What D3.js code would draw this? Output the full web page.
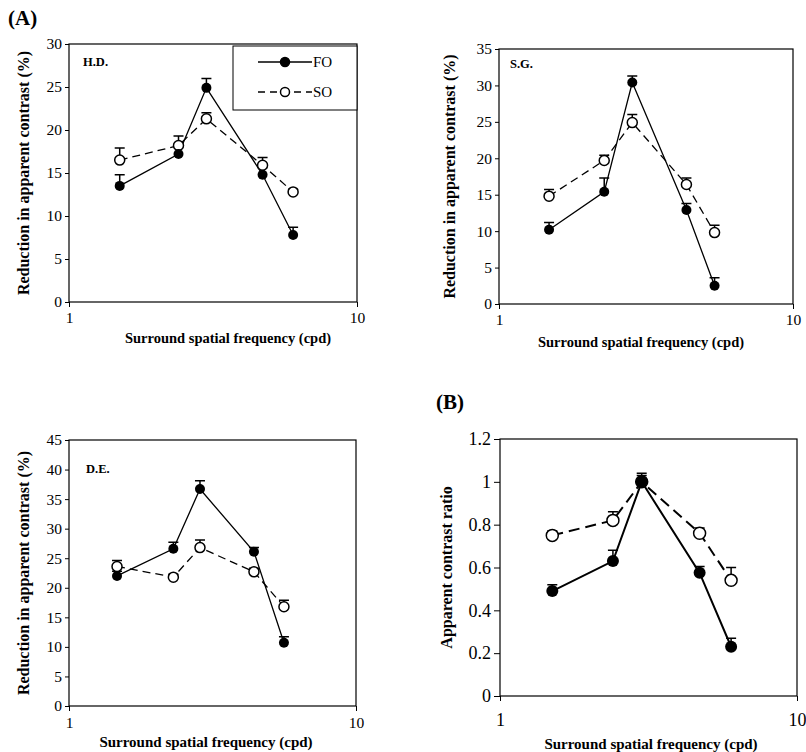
<!DOCTYPE html>
<html>
<head>
<meta charset="utf-8">
<script src="https://cdn.jsdelivr.net/npm/d3@7"></script>
<style>
  body { margin: 0; background: #fff; }
  svg { font-family: "Liberation Serif", "Times New Roman", serif; }
</style>
</head>
<body>
<svg width="806" height="752"></svg>
<script>
// surround spatial frequency (cpd) per subject
const hdFreq = [1.5, 2.4, 3.0, 4.7, 6.0];
const sgFreq = [1.48, 2.28, 2.84, 4.34, 5.41];
const deFreq = [1.47, 2.31, 2.86, 4.41, 5.61];
const avgFreq = [1.5, 2.4, 3.0, 4.7, 6.0];

// reduction in apparent contrast (%), FO / SO with upper error bars
const hdFO = [13.5, 17.2, 24.9, 14.8, 7.8];
const hdFOErr = [1.3, 1.0, 1.1, 0.8, 0.9];
const hdSO = [16.5, 18.2, 21.3, 15.9, 12.8];
const hdSOErr = [1.4, 1.1, 0.7, 0.9, 0.3];

const sgFO = [10.2, 15.4, 30.4, 12.9, 2.5];
const sgFOErr = [1.0, 1.9, 0.9, 0.9, 1.1];
const sgSO = [14.8, 19.7, 24.9, 16.4, 9.8];
const sgSOErr = [0.9, 0.7, 1.1, 0.9, 1.0];

const deFO = [22.0, 26.6, 36.7, 26.1, 10.7];
const deFOErr = [0.8, 1.1, 1.4, 0.7, 1.0];
const deSO = [23.6, 21.8, 26.8, 22.7, 16.8];
const deSOErr = [1.0, 0.5, 1.3, 0.6, 1.1];

// apparent contrast ratio
const avgFO = [0.49, 0.63, 1.0, 0.575, 0.23];
const avgFOErr = [0.03, 0.05, 0.04, 0.03, 0.04];
const avgSO = [0.75, 0.82, 1.0, 0.76, 0.54];
const avgSOErr = [0.02, 0.04, 0.03, 0.025, 0.06];

const xTicks = [1, 10];
const pctLabel = "Reduction in apparent contrast (%)";
const ratioLabel = "Apparent contrast ratio";
const xLabel = "Surround spatial frequency (cpd)";

const svg = d3.select("svg");

const panels = [
  { name: "H.D.", freq: hdFreq, fo: hdFO, foErr: hdFOErr, so: hdSO, soErr: hdSOErr,
    yMax: 30, yStep: 5, yLabel: pctLabel, tickSize: 15.5, tickLen: 4,
    box: [69, 357, 44, 302], xPad: 5, xLabY: 343, xLabX: 228, xLabSize: 14.5,
    yLabX: 29, yLabSize: 16, nameX: 83, nameY: 66, r: 5, dash: "8,5", legend: true },
  { name: "S.G.", freq: sgFreq, fo: sgFO, foErr: sgFOErr, so: sgSO, soErr: sgSOErr,
    yMax: 35, yStep: 5, yLabel: pctLabel, tickSize: 15.5, tickLen: 4,
    box: [499, 793, 49, 304], xPad: 5, xLabY: 347, xLabX: 641, xLabSize: 14.5,
    yLabX: 455, yLabSize: 16, nameX: 510, nameY: 68, r: 5, dash: "8,5" },
  { name: "D.E.", freq: deFreq, fo: deFO, foErr: deFOErr, so: deSO, soErr: deSOErr,
    yMax: 45, yStep: 5, yLabel: pctLabel, tickSize: 15.5, tickLen: 4,
    box: [69, 356, 440, 706], xPad: 6, xLabY: 747, xLabX: 206, xLabSize: 15,
    yLabX: 29, yLabSize: 16, nameX: 86, nameY: 473, r: 5, dash: "8,5" },
  { name: "", freq: avgFreq, fo: avgFO, foErr: avgFOErr, so: avgSO, soErr: avgSOErr,
    yMax: 1.2, yStep: 0.2, yLabel: ratioLabel, tickSize: 18, tickLen: 6,
    box: [500, 797, 439, 696], xPad: 12, xLabY: 749, xLabX: 651, xLabSize: 15,
    yLabX: 452, yLabSize: 16, nameX: 0, nameY: 0, r: 6, dash: "11,6", lw: 2 }
];

panels.forEach(drawPanel);

svg.append("text").attr("x", 8).attr("y", 25)
  .attr("font-size", 21).attr("font-weight", "bold").text("(A)");
svg.append("text").attr("x", 436).attr("y", 409)
  .attr("font-size", 21).attr("font-weight", "bold").text("(B)");

function drawPanel(p) {
  const [x0, x1, y0, y1] = p.box;
  const x = d3.scaleLog().domain([1, 10]).range([x0, x1]);
  const y = d3.scaleLinear().domain([0, p.yMax]).range([y1, y0]);
  const g = svg.append("g");
  const lw = p.lw || 1.3;

  const yTickVals = d3.range(0, p.yMax + p.yStep / 2, p.yStep).map(v => +v.toFixed(1));

  g.append("g")
    .attr("transform", `translate(${x0},0)`)
    .call(d3.axisLeft(y).tickValues(yTickVals).tickSize(p.tickLen).tickPadding(3)
      .tickFormat(d => d3.format("~g")(d)))
    .call(a => a.select(".domain").remove())
    .call(a => a.selectAll("text").attr("font-size", p.tickSize).attr("font-family", "Liberation Serif").attr("fill", "#000"));

  g.append("g")
    .attr("transform", `translate(0,${y1})`)
    .call(d3.axisBottom(x).tickValues(xTicks).tickSize(5).tickPadding(p.xPad)
      .tickFormat(d3.format("d")))
    .call(a => a.select(".domain").remove())
    .call(a => a.selectAll("text").attr("font-size", p.tickSize).attr("font-family", "Liberation Serif").attr("fill", "#000"));

  g.append("rect")
    .attr("x", x0).attr("y", y0).attr("width", x1 - x0).attr("height", y1 - y0)
    .attr("fill", "none").attr("stroke", "#000").attr("stroke-width", 1.2);

  const line = d3.line().x(d => x(d.f)).y(d => y(d.v));
  const fo = p.freq.map((f, i) => ({ f, v: p.fo[i], e: p.foErr[i] }));
  const so = p.freq.map((f, i) => ({ f, v: p.so[i], e: p.soErr[i] }));

  // error bars (upper only)
  [fo, so].forEach(s => {
    g.append("g").selectAll("path").data(s).join("path")
      .attr("d", d => `M${x(d.f)},${y(d.v)}V${y(d.v + d.e)}M${x(d.f) - 5},${y(d.v + d.e)}H${x(d.f) + 5}`)
      .attr("stroke", "#000").attr("stroke-width", 1.5).attr("fill", "none");
  });

  g.append("path").datum(so).attr("d", line)
    .attr("fill", "none").attr("stroke", "#000").attr("stroke-width", lw)
    .attr("stroke-dasharray", p.dash);
  g.append("path").datum(fo).attr("d", line)
    .attr("fill", "none").attr("stroke", "#000").attr("stroke-width", lw);

  g.append("g").selectAll("circle").data(so).join("circle")
    .attr("cx", d => x(d.f)).attr("cy", d => y(d.v)).attr("r", p.r)
    .attr("fill", "#fff").attr("stroke", "#000").attr("stroke-width", 1.5);
  g.append("g").selectAll("circle").data(fo).join("circle")
    .attr("cx", d => x(d.f)).attr("cy", d => y(d.v)).attr("r", p.r)
    .attr("fill", "#000");

  if (p.name) {
    g.append("text").attr("x", p.nameX).attr("y", p.nameY)
      .attr("font-size", 12.5).attr("font-weight", "bold").text(p.name);
  }

  g.append("text")
    .attr("transform", `translate(${p.yLabX},${(y0 + y1) / 2}) rotate(-90)`)
    .attr("text-anchor", "middle").attr("font-size", p.yLabSize).attr("font-weight", "bold")
    .text(p.yLabel);

  g.append("text")
    .attr("x", p.xLabX).attr("y", p.xLabY)
    .attr("text-anchor", "middle").attr("font-size", p.xLabSize).attr("font-weight", "bold")
    .text(xLabel);

  if (p.legend) {
    const lg = g.append("g");
    lg.append("rect").attr("x", 233).attr("y", 46).attr("width", x1 - 233).attr("height", 64)
      .attr("fill", "#fff").attr("stroke", "#000").attr("stroke-width", 1);
    const items = [
      { label: "FO", yy: 62, dash: null, fill: "#000" },
      { label: "SO", yy: 92, dash: "7,5", fill: "#fff" }
    ];
    items.forEach(it => {
      lg.append("line").attr("x1", 258).attr("x2", 312).attr("y1", it.yy).attr("y2", it.yy)
        .attr("stroke", "#000").attr("stroke-width", 1.3).attr("stroke-dasharray", it.dash);
      lg.append("circle").attr("cx", 285).attr("cy", it.yy).attr("r", 4.5)
        .attr("fill", it.fill).attr("stroke", "#000").attr("stroke-width", 1.5);
      lg.append("text").attr("x", 313).attr("y", it.yy + 5)
        .attr("font-size", 15).text(it.label);
    });
  }
}
</script>
</body>
</html>
